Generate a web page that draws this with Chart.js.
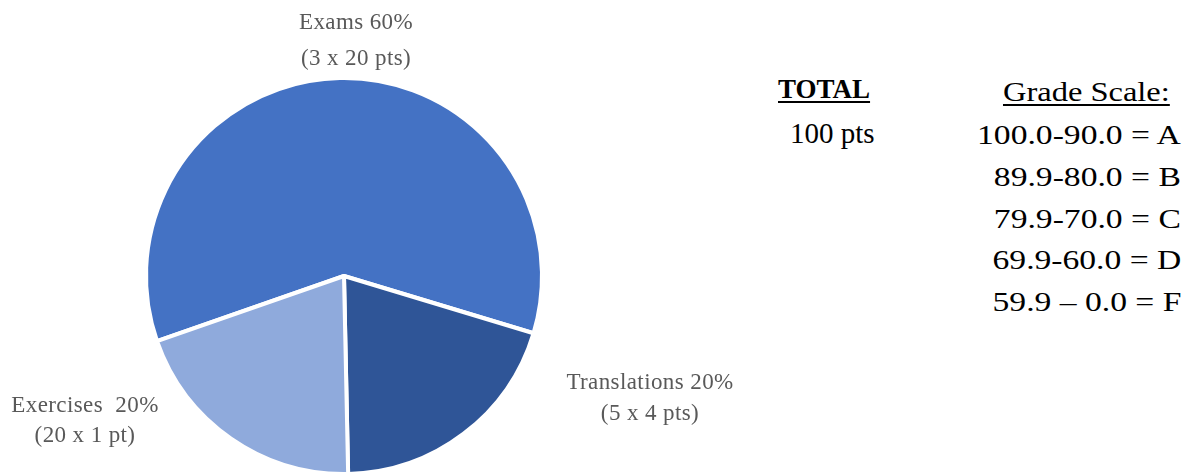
<!DOCTYPE html>
<html>
<head>
<meta charset="utf-8">
<script src="https://cdn.jsdelivr.net/npm/chart.js@4.4.0/dist/chart.umd.min.js"></script>
<style>
  body { margin: 0; width: 1195px; height: 473px; overflow: hidden; background: #fff; font-family: "Liberation Serif", serif; }
  #pieChart { position: absolute; left: 0; top: 0; }
  .lbl { position: absolute; color: #595959; font-size: 23px; line-height: 23px; letter-spacing: 0.4px; white-space: pre; transform: translateX(-50%); }
  .txt { position: absolute; color: #000; white-space: pre; }
  .u { text-decoration: underline; text-underline-offset: 3px; text-decoration-thickness: 2px; }
</style>
</head>
<body>
<canvas id="pieChart" width="688" height="552"></canvas>
<div id="labels"></div>
<div id="side"></div>
<script>
const categories = ["Exams", "Translations", "Exercises"];
const percents = [60, 20, 20];
const pointsText = ["(3 x 20 pts)", "(5 x 4 pts)", "(20 x 1 pt)"];
const sliceColors = ["#4472C4", "#2F5597", "#8FAADC"];
const totalTitle = "TOTAL";
const totalText = "100 pts";
const gradeTitle = "Grade Scale:";
const gradeRows = ["100.0-90.0 = A", "89.9-80.0 = B", "79.9-70.0 = C", "69.9-60.0 = D", "59.9 \u2013 0.0 = F"];

// label placement (centre x, line tops)
const labelPos = [
    { x: 356, y1: 10, y2: 46, sep: " " },
    { x: 650, y1: 370, y2: 401, sep: " " },
    { x: 85, y1: 393, y2: 423, sep: "  " }
];

const ctx = document.getElementById("pieChart").getContext("2d");
const pieChart = new Chart(ctx, {
    type: "pie",
    data: {
        labels: categories,
        datasets: [{
            data: percents,
            backgroundColor: sliceColors,
            borderColor: "#ffffff",
            borderWidth: 4
        }]
    },
    options: {
        responsive: false,
        animation: false,
        rotation: -109.2,
        radius: 198,
        layout: { padding: 0 },
        plugins: {
            legend: { display: false },
            tooltip: { enabled: false }
        }
    }
});

const labelsEl = document.getElementById("labels");
function addLabel(text, x, y) {
    const d = document.createElement("div");
    d.className = "lbl";
    d.textContent = text;
    d.style.left = x + "px";
    d.style.top = y + "px";
    labelsEl.appendChild(d);
}
categories.forEach((c, i) => {
    const p = labelPos[i];
    addLabel(c + p.sep + percents[i] + "%", p.x, p.y1);
    addLabel(pointsText[i], p.x, p.y2);
});

const side = document.getElementById("side");
function addText(text, css, cls) {
    const d = document.createElement("div");
    d.className = "txt" + (cls ? " " + cls : "");
    d.textContent = text;
    Object.assign(d.style, css);
    side.appendChild(d);
}
addText(totalTitle, { left: "778px", top: "76px", fontSize: "27px", lineHeight: "27px", fontWeight: "bold" }, "u");
addText(totalText, { left: "790px", top: "119px", fontSize: "29px", lineHeight: "29px" });
addText(gradeTitle, { right: "25px", top: "78px", fontSize: "28px", lineHeight: "28px", transform: "scaleX(1.16)", transformOrigin: "right" }, "u");
const rowTops = [121, 163, 205, 246, 288];
gradeRows.forEach((r, i) => {
    addText(r, { right: "14px", top: rowTops[i] + "px", fontSize: "28px", lineHeight: "28px", transform: "scaleX(1.2)", transformOrigin: "right" });
});
</script>
</body>
</html>
